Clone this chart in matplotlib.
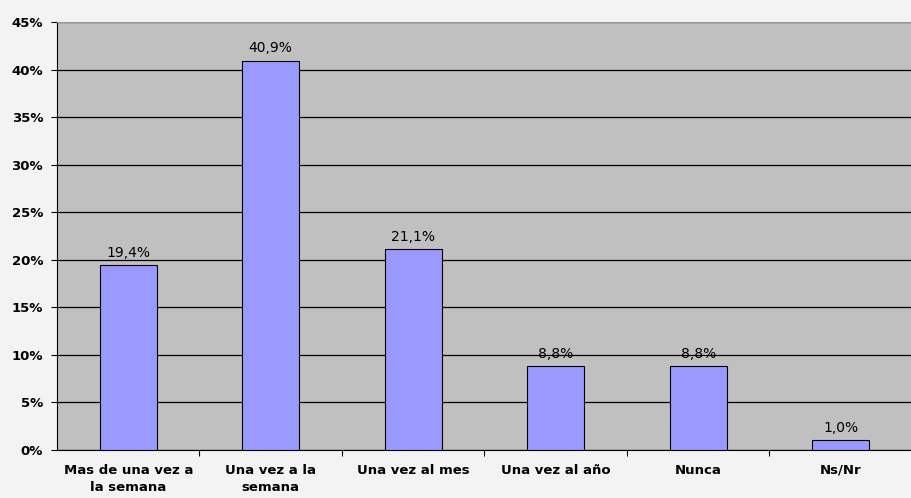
import numpy as np
import matplotlib
matplotlib.use("Agg")
import matplotlib.pyplot as plt
from matplotlib.ticker import FixedLocator

categories = ["Mas de una vez a\nla semana", "Una vez a la\nsemana", "Una vez al mes",
              "Una vez al año", "Nunca", "Ns/Nr"]
values = [19.4, 40.9, 21.1, 8.8, 8.8, 1.0]
yticks = [0, 5, 10, 15, 20, 25, 30, 35, 40, 45]

plt.rcParams["font.family"] = ["DejaVu Sans"]

fig = plt.figure(figsize=(9.12, 4.98), dpi=100, facecolor="#f3f3f3")
ax = fig.add_axes([57 / 912, 48 / 498, 855 / 912, 428 / 498])
ax.set_facecolor("#c0c0c0")

x = np.arange(len(categories))
ax.bar(x, values, width=0.4, color="#9999ff", edgecolor="black", linewidth=0.8, zorder=3)

for xi, v in zip(x, values):
    ax.text(xi, v + 0.6, f"{v:.1f}%".replace(".", ","), ha="center", va="bottom",
            fontsize=10, zorder=4)

ax.set_xlim(-0.5, len(categories) - 0.5)
ax.set_ylim(0, 45)
ax.set_yticks(yticks)
ax.set_yticklabels([f"{t}%" for t in yticks], fontsize=9.5, fontweight="bold")
ax.yaxis.grid(True, color="black", linewidth=0.9, zorder=1)
ax.set_axisbelow(True)

ax.set_xticks(x)
ax.set_xticklabels(categories, fontsize=9.5, fontweight="bold", linespacing=1.4)
ax.tick_params(axis="x", length=0, pad=10)
ax.xaxis.set_minor_locator(FixedLocator(np.arange(0.5, len(categories) - 1, 1.0)))
ax.tick_params(axis="x", which="minor", length=4, width=0.8, direction="out")
ax.tick_params(axis="y", length=4, width=0.8, direction="out", pad=6)

ax.spines["right"].set_visible(False)
ax.spines["top"].set_color("#999999")
ax.spines["left"].set_color("black")
ax.spines["bottom"].set_color("black")

plt.savefig("out.png", dpi=100, facecolor=fig.get_facecolor())
